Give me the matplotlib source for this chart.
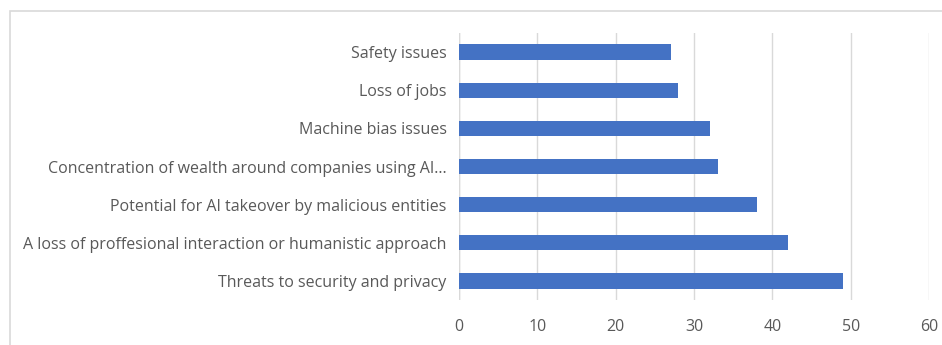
import matplotlib.pyplot as plt
from matplotlib.patches import Rectangle

# survey answers, bottom to top
concerns = [
    "Threats to security and privacy",
    "A loss of proffesional interaction or humanistic approach",
    "Potential for AI takeover by malicious entities",
    "Concentration of wealth around companies using AI...",
    "Machine bias issues",
    "Loss of jobs",
    "Safety issues",
]
responses = [49, 42, 38, 33, 32, 28, 27]
xticks = [0, 10, 20, 30, 40, 50, 60]

plt.rcParams['font.family'] = ['Open Sans', 'DejaVu Sans']

fig = plt.figure(figsize=(9.42, 3.45), dpi=100)
ax = fig.add_axes([0.4873, 0.1304, 0.4989, 0.7739])

ax.barh(range(len(concerns)), responses, height=0.4, color='#4472C4', zorder=3)

ax.set_xlim(0, 60)
ax.set_ylim(-0.5, len(concerns) - 0.5)
ax.set_xticks(xticks)
ax.set_yticks(range(len(concerns)))
ax.set_yticklabels(concerns)
ax.tick_params(axis='both', length=0, colors='#595959', labelsize=11.5)
ax.tick_params(axis='x', pad=14)
ax.tick_params(axis='y', pad=9)
ax.grid(axis='x', color='#D9D9D9', linewidth=1, zorder=0)
for s in ax.spines.values():
    s.set_visible(False)
ax.axvline(0, color='#D9D9D9', linewidth=1, zorder=1)

# chart frame
fig.patches.append(Rectangle((10 / 942, -0.1), 1.2, 1 - 11 / 345 + 0.1,
                             transform=fig.transFigure, fill=False,
                             edgecolor='#D9D9D9', linewidth=1.2))

fig.savefig('out.png', dpi=100)
